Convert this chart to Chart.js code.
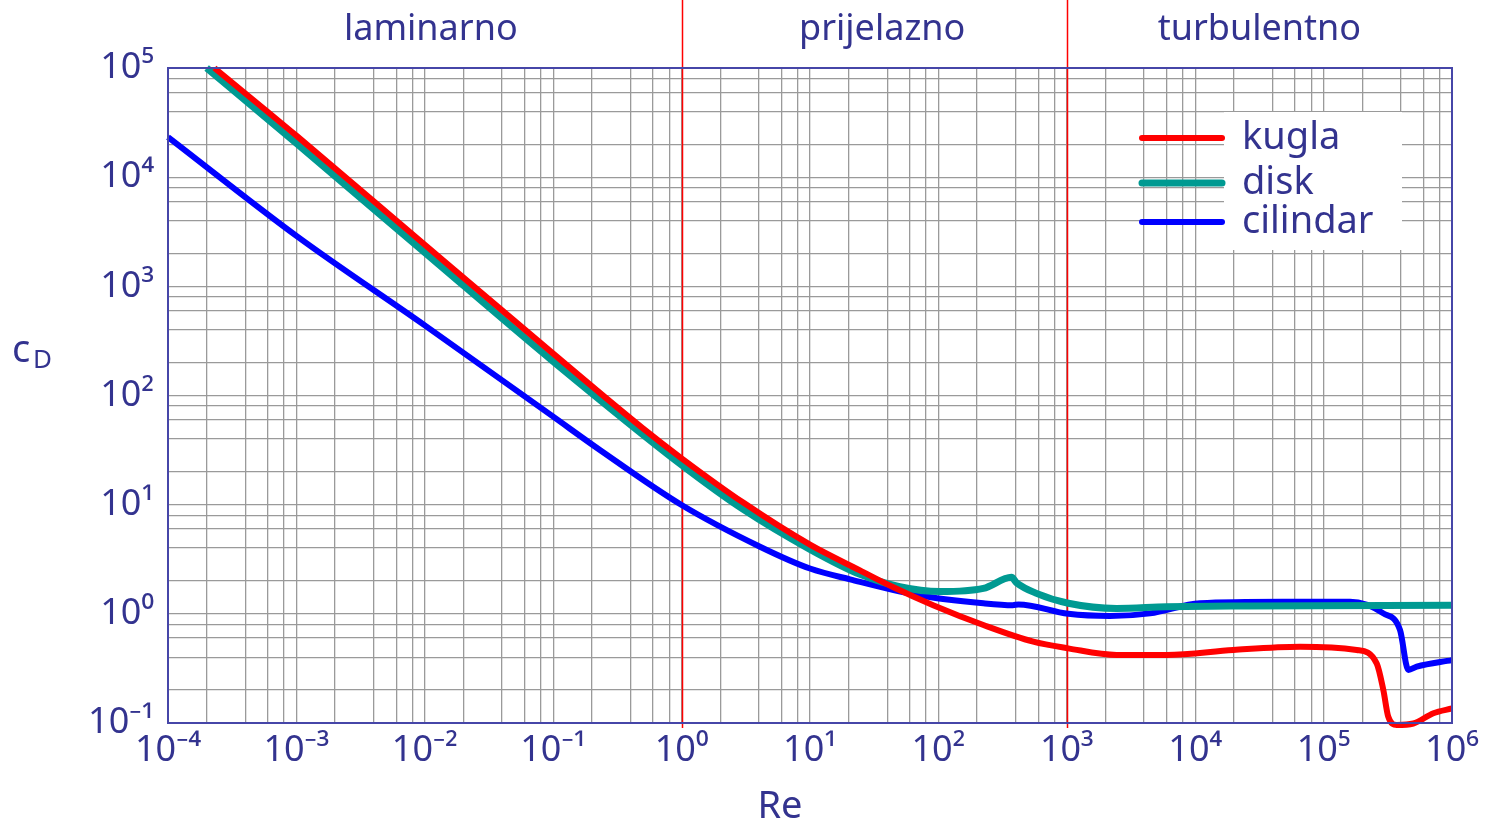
<!DOCTYPE html>
<html>
<head>
<meta charset="utf-8">
<script src="https://cdn.jsdelivr.net/npm/chart.js@4/dist/chart.umd.min.js"></script>
<style>
  body { margin: 0; background: #fff; }
  canvas { display: block; }
</style>
</head>
<body>
<canvas id="cdgraph" width="1485" height="823"></canvas>
<script>
// Re (x) and c_D (y)
var re_kugla = [2.3e-4, 1e-3, 1e-2, 1e-1, 0.5, 1, 3, 10, 24.5, 44.6, 91, 224, 548, 1028, 2443, 6000, 19800, 65500, 181000, 259000, 292000, 319000, 371000, 500000, 716000, 1e6];
var cd_kugla = [1e5, 24000, 2400, 242, 50, 26.6, 10.5, 4.3, 2.5, 1.75, 1.2, 0.79, 0.556, 0.483, 0.42, 0.42, 0.467, 0.5, 0.467, 0.352, 0.2, 0.114, 0.096, 0.099, 0.123, 0.136];

var re_disk = [2.0e-4, 1e-3, 1e-2, 1e-1, 1, 3, 10, 24.5, 50, 103, 224, 371, 406, 581, 1028, 2443, 6000, 26700, 1e6];
var cd_disk = [1e5, 20400, 2040, 205, 23.1, 9.1, 3.9, 2.3, 1.77, 1.6, 1.71, 2.16, 1.93, 1.54, 1.25, 1.12, 1.16, 1.18, 1.2];

var re_cilindar = [1e-4, 1e-3, 1e-2, 1e-1, 0.231, 1, 4.08, 10, 20.5, 67.8, 224, 380, 420, 1028, 2168, 4450, 10900, 47900, 160700, 292000, 393700, 457000, 531000, 1e6];
var cd_cilindar = [23300, 2900, 439, 64, 31.7, 9.93, 4.12, 2.6, 2.07, 1.49, 1.25, 1.2, 1.22, 1.0, 0.955, 1.01, 1.25, 1.29, 1.29, 1.01, 0.71, 0.306, 0.328, 0.377];

var regions = ["laminarno", "prijelazno", "turbulentno"];
var region_bounds = [1e-4, 1, 1e3, 1e6];

var x_min = 1e-4, x_max = 1e6;
var y_min = 1e-1, y_max = 1e5;
var grid_steps = [1, 2, 4, 6, 8];

var ink = "#33338f";
var fontname = '"Noto Sans", "DejaVu Sans", sans-serif';

function points(xs, ys){
    var out = [];
    for(var i = 0; i < xs.length; i++){
        out.push({x: xs[i], y: ys[i]});
    }
    return out;
}
function logticks(min, max){
    var list = [];
    var e0 = Math.round(Math.log10(min)), e1 = Math.round(Math.log10(max));
    for(var e = e0; e < e1; e++){
        grid_steps.forEach(function(m){
            list.push({value: m * Math.pow(10, e)});
        });
    }
    list.push({value: max});
    return list;
}
function ispow10(v){
    var l = Math.log10(v);
    return Math.abs(l - Math.round(l)) < 1e-9;
}
function powlabel(v){
    if(!ispow10(v)) return "";
    var sup = {"-": "\u207B", "0": "\u2070", "1": "\u00B9", "2": "\u00B2", "3": "\u00B3", "4": "\u2074",
               "5": "\u2075", "6": "\u2076", "7": "\u2077", "8": "\u2078", "9": "\u2079"};
    var e = String(Math.round(Math.log10(v)));
    var s = "";
    for(var i = 0; i < e.length; i++) s += sup[e[i]];
    return "10" + s;
}

// red region boundaries + region names above the plot
var regionplugin = {
    id: "regions",
    beforeDatasetsDraw: function(chart){
        var ctx = chart.ctx, xs = chart.scales.x, area = chart.chartArea;
        ctx.save();
        ctx.strokeStyle = "#ff0000";
        ctx.lineWidth = 1.5;
        for(var i = 1; i < region_bounds.length - 1; i++){
            var px = Math.round(xs.getPixelForValue(region_bounds[i])) + 0.5;
            ctx.beginPath();
            ctx.moveTo(px, 0);
            ctx.lineTo(px, area.bottom + 5);
            ctx.stroke();
        }
        ctx.restore();
    },
    afterDraw: function(chart){
        var ctx = chart.ctx, xs = chart.scales.x, area = chart.chartArea;
        ctx.save();
        // frame round the plot
        ctx.strokeStyle = "#4646a8";
        ctx.lineWidth = 2;
        ctx.strokeRect(area.left, area.top, area.right - area.left, area.bottom - area.top);

        ctx.fillStyle = ink;
        ctx.textAlign = "center";
        ctx.textBaseline = "alphabetic";
        ctx.font = "36px " + fontname;
        var shift = [6, 8, 0];
        for(var i = 0; i < regions.length; i++){
            var a = xs.getPixelForValue(region_bounds[i]);
            var b = xs.getPixelForValue(region_bounds[i + 1]);
            ctx.fillText(regions[i], (a + b) / 2 + shift[i], 40);
        }
        // axis titles
        ctx.font = "38px " + fontname;
        ctx.fillText("Re", 780, 818);
        ctx.textAlign = "left";
        ctx.font = "38px " + fontname;
        ctx.fillText("c", 12, 362);
        ctx.font = "26px " + fontname;
        ctx.fillText("D", 33, 368);
        ctx.restore();
    }
};

// legend inside the plot, top right
var legendplugin = {
    id: "boxlegend",
    afterDatasetsDraw: function(chart){
        var ctx = chart.ctx;
        var sets = chart.data.datasets;
        ctx.save();
        ctx.fillStyle = "#ffffff";
        ctx.fillRect(1224, 112, 178, 138);
        var rows = [138, 183, 222];
        ctx.font = "38px " + fontname;
        ctx.textBaseline = "middle";
        ctx.textAlign = "left";
        for(var i = 0; i < sets.length; i++){
            ctx.strokeStyle = sets[i].borderColor;
            ctx.lineWidth = sets[i].borderWidth;
            ctx.lineCap = "round";
            ctx.beginPath();
            ctx.moveTo(1142, rows[i]);
            ctx.lineTo(1222, rows[i]);
            ctx.stroke();
            ctx.fillStyle = ink;
            ctx.fillText(sets[i].label, 1242, rows[i]);
        }
        ctx.restore();
    }
};

function cdgraph(){
    var ctx = document.getElementById("cdgraph").getContext("2d");
    var myChart = new Chart(ctx, {
        type: "line",
        data: {
            datasets: [
                {
                    label: "kugla",
                    data: points(re_kugla, cd_kugla),
                    borderColor: "#ff0000",
                    borderWidth: 6,
                    pointRadius: 0,
                    fill: false,
                    cubicInterpolationMode: "monotone",
                    clip: false
                },
                {
                    label: "disk",
                    data: points(re_disk, cd_disk),
                    borderColor: "#009a92",
                    borderWidth: 7,
                    pointRadius: 0,
                    fill: false,
                    cubicInterpolationMode: "monotone",
                    clip: false
                },
                {
                    label: "cilindar",
                    data: points(re_cilindar, cd_cilindar),
                    borderColor: "#0000ff",
                    borderWidth: 6,
                    pointRadius: 0,
                    fill: false,
                    cubicInterpolationMode: "monotone",
                    clip: false
                }
            ]
        },
        options: {
            responsive: false,
            animation: false,
            layout: { padding: { top: 68, right: 33, left: 0, bottom: 0 } },
            plugins: {
                legend: { display: false },
                tooltip: { enabled: false }
            },
            scales: {
                x: {
                    type: "logarithmic",
                    min: x_min,
                    max: x_max,
                    afterBuildTicks: function(scale){ scale.ticks = logticks(x_min, x_max); },
                    afterFit: function(scale){ scale.height = 100; },
                    grid: { color: "#9a9a9a", lineWidth: 1.3, drawTicks: false },
                    border: { color: "#4646a8", width: 2 },
                    ticks: {
                        autoSkip: false,
                        maxRotation: 0,
                        padding: 6,
                        color: ink,
                        font: { size: 36, family: fontname },
                        callback: function(v){ return powlabel(v); }
                    }
                },
                y: {
                    type: "logarithmic",
                    min: y_min,
                    max: y_max,
                    afterBuildTicks: function(scale){ scale.ticks = logticks(y_min, y_max); },
                    afterFit: function(scale){ scale.width = 168; },
                    grid: { color: "#9a9a9a", lineWidth: 1.3, drawTicks: false },
                    border: { color: "#4646a8", width: 2 },
                    ticks: {
                        autoSkip: false,
                        padding: 14,
                        color: ink,
                        font: { size: 36, family: fontname },
                        callback: function(v){ return powlabel(v); }
                    }
                }
            }
        },
        plugins: [regionplugin, legendplugin]
    });
}
cdgraph();
</script>
</body>
</html>
